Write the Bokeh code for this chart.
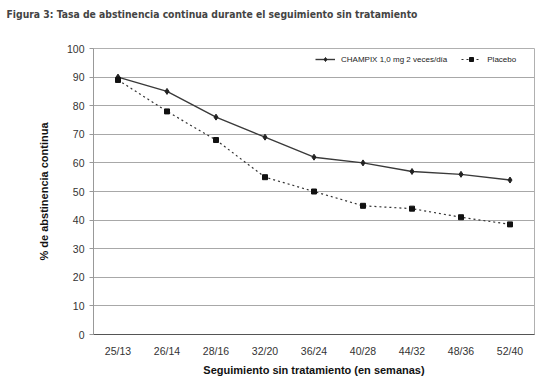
from bokeh.plotting import figure
from bokeh.models import Range1d, FixedTicker, Legend, LegendItem, Title
from bokeh.embed import file_html
from bokeh.resources import INLINE

categories = ["25/13", "26/14", "28/16", "32/20", "36/24", "40/28", "44/32", "48/36", "52/40"]
champix = [90, 85, 76, 69, 62, 60, 57, 56, 54]
placebo = [89, 78, 68, 55, 50, 45, 44, 41, 38.5]
y_ticks = [0, 10, 20, 30, 40, 50, 60, 70, 80, 90, 100]

title_text = "Figura 3: Tasa de abstinencia continua durante el seguimiento sin tratamiento"
label_champix = "CHAMPIX 1,0 mg 2 veces/día"
label_placebo = "Placebo"
x_label = "Seguimiento sin tratamiento (en semanas)"
y_label = "% de abstinencia continua"

p = figure(width=546, height=378, x_range=categories, y_range=Range1d(0, 100),
           output_backend="svg", toolbar_location=None, title=None,
           min_border_left=93, min_border_right=12, min_border_top=47, min_border_bottom=43)

spacer = Title(text=" ", text_font_size="10.5px", align="left")
p.add_layout(spacer, "above")
main_title = Title(text=title_text, text_font="DejaVu Sans Condensed", text_font_style="bold",
                   text_font_size="10.3px", align="left", offset=-87)
p.add_layout(main_title, "above")

p.outline_line_color = "#b0b0b0"
p.outline_line_width = 1

p.yaxis.ticker = FixedTicker(ticks=y_ticks)
p.ygrid.ticker = FixedTicker(ticks=y_ticks)
p.ygrid.grid_line_color = "#a8a8a8"
p.ygrid.grid_line_width = 1
p.xgrid.grid_line_color = None

for ax in (p.xaxis[0], p.yaxis[0]):
    ax.major_label_text_font = "Liberation Sans"
    ax.major_label_text_font_size = "10.5px"
    ax.major_label_text_color = "#333333"
    ax.axis_label_text_font = "Liberation Sans"
    ax.axis_label_text_font_style = "bold"
    ax.axis_label_text_font_size = "11px"
    ax.axis_label_text_color = "#111111"
    ax.minor_tick_line_color = None

p.yaxis.axis_line_color = "#999999"
p.yaxis.major_tick_line_color = "#999999"
p.yaxis.major_tick_out = 4
p.yaxis.major_tick_in = 0
p.yaxis.major_label_standoff = 5
p.yaxis.axis_label = y_label
p.yaxis.axis_label_standoff = 14

p.xaxis.axis_line_color = "#555555"
p.xaxis.major_tick_line_color = None
p.xaxis.major_tick_out = 0
p.xaxis.major_label_standoff = 10
p.xaxis.axis_label = x_label
p.xaxis.axis_label_standoff = 4

l1 = p.line(categories, champix, line_color="#3a3a3a", line_width=1.4)
m1 = p.scatter(categories, champix, marker="diamond", size=6, fill_color="#222222", line_color="#222222")
l2 = p.line(categories, placebo, line_color="#333333", line_width=1.2, line_dash="2 3")
m2 = p.scatter(categories, placebo, marker="square", size=5, fill_color="#111111", line_color="#111111")

legend = Legend(items=[LegendItem(label=label_champix, renderers=[l1, m1]),
                       LegendItem(label=label_placebo, renderers=[l2, m2])],
                orientation="horizontal", location=(222, 270),
                background_fill_alpha=0, border_line_color=None,
                label_text_font="Liberation Sans", label_text_font_size="8px",
                label_text_color="#222222",
                glyph_width=20, glyph_height=10, spacing=14, padding=2,
                margin=0, label_standoff=6)
p.add_layout(legend)

open("out.html", "w").write(file_html(p, INLINE))
